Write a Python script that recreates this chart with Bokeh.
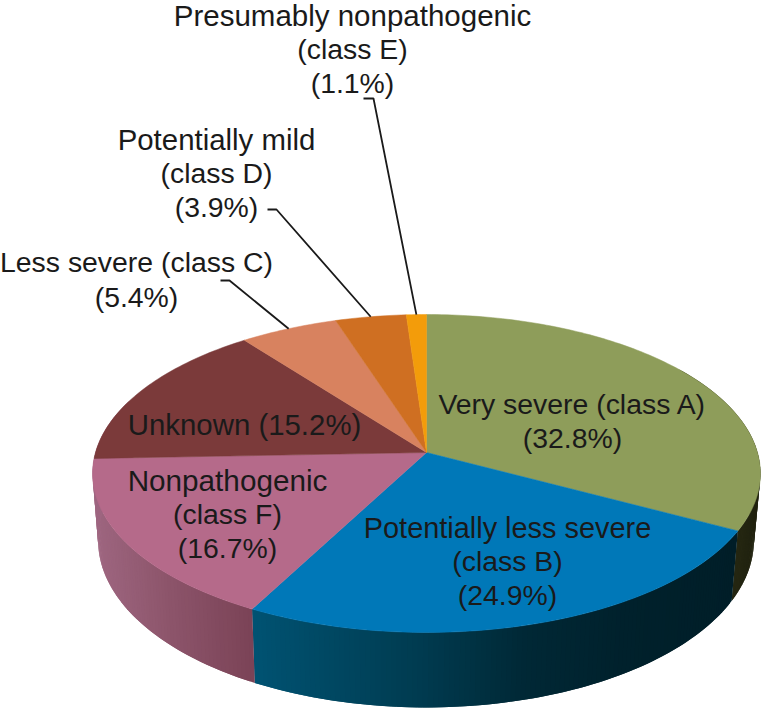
import math
from bokeh.plotting import figure
from bokeh.models import Range1d, ColumnDataSource
from bokeh.core.properties import value
from bokeh.embed import file_html
from bokeh.resources import INLINE

# data
classes = ["Very severe (class A)", "Potentially less severe (class B)", "Nonpathogenic (class F)",
           "Unknown", "Less severe (class C)", "Potentially mild (class D)", "Presumably nonpathogenic (class E)"]
shares = [32.8, 24.9, 16.7, 15.2, 5.4, 3.9, 1.1]

# style
top_colors = ["#8e9d5a", "#0078b8", "#b56a8a", "#7b3a3a", "#d8825f", "#cf6f22", "#f39c0a"]
# side shading stops: (screen x, rgb)
side_stops = [
    [(730, (38, 40, 18)), (760, (30, 32, 14))],
    [(254, (0, 82, 114)), (340, (0, 70, 96)), (425, (0, 58, 78)), (520, (0, 40, 54)), (620, (0, 33, 44)), (735, (0, 30, 40))],
    [(95, (158, 102, 128)), (170, (140, 84, 106)), (254, (122, 66, 86))],
    [(90, (158, 102, 128)), (254, (158, 102, 128))],
    [(200, (160, 90, 70)), (340, (160, 90, 70))],
    [(340, (150, 80, 30)), (410, (150, 80, 30))],
    [(410, (170, 110, 10)), (430, (170, 110, 10))],
]

# projection of the pie disc
K = 0.132
def top_pt(t):
    u, v = math.sin(t), math.cos(t)
    d = 1 + K * v
    return 426 + 331 * u / d, 452 - 156.2 * v / d
def bot_pt(t):
    u, v = math.sin(t), math.cos(t)
    d = 1 + K * v
    return 425.5 + 325 * u / d, 518 - 164 * v / d
def shade(stops, x):
    if x <= stops[0][0]:
        c = stops[0][1]
    elif x >= stops[-1][0]:
        c = stops[-1][1]
    else:
        for (x0, c0), (x1, c1) in zip(stops, stops[1:]):
            if x0 <= x <= x1:
                f = (x - x0) / (x1 - x0)
                c = tuple(a + (b - a) * f for a, b in zip(c0, c1))
                break
    return "#%02x%02x%02x" % tuple(int(round(a)) for a in c)

total = sum(shares)
bounds = [0.0]
for s in shares:
    bounds.append(bounds[-1] + s / total * 2 * math.pi)

p = figure(width=768, height=713, x_range=Range1d(0, 768), y_range=Range1d(713, 0),
           output_backend="svg", toolbar_location=None, min_border=0,
           background_fill_color="white", border_fill_color="white", outline_line_color=None)
p.axis.visible = False
p.grid.visible = False

# side wall, one strip per small step of the rim
xs, ys, cs = [], [], []
for i, stops in enumerate(side_stops):
    a0, a1 = bounds[i], bounds[i + 1]
    a0 = max(a0, math.radians(55))
    a1 = min(a1, math.radians(290))
    if a1 <= a0:
        continue
    n = max(2, int((a1 - a0) / math.radians(0.8)))
    for j in range(n):
        t0 = a0 + (a1 - a0) * j / n
        t1 = a0 + (a1 - a0) * (j + 1.0) / n
        t2 = min(a1, t1 + (a1 - a0) / n)
        A, B = top_pt(t0), top_pt(t2)
        C, D = bot_pt(t2), bot_pt(t0)
        xs.append([A[0], B[0], C[0], D[0]])
        ys.append([A[1], B[1], C[1], D[1]])
        cs.append(shade(stops, (A[0] + B[0] + C[0] + D[0]) / 4))
p.patches(xs, ys, fill_color=cs, line_color=None)

# top face
for i, col in enumerate(top_colors):
    a0, a1 = bounds[i], bounds[i + 1]
    n = max(4, int((a1 - a0) / math.radians(1.0)))
    pts = [top_pt(a0 + (a1 - a0) * j / n) for j in range(n + 1)]
    p.patch([426] + [q[0] for q in pts], [452] + [q[1] for q in pts],
            fill_color=col, line_color=col, line_width=0.5)

# leader lines: elbow near the label, then to the middle of the slice's rim
leader_slices = [4, 5, 6]
leader_elbows = [[(220, 280), (229, 280)], [(267, 209), (276, 209)], [(363, 98), (373, 98)]]
for i, elbow in zip(leader_slices, leader_elbows):
    e = top_pt((bounds[i] + bounds[i + 1]) / 2)
    p.line([q[0] for q in elbow] + [e[0]], [q[1] for q in elbow] + [e[1]],
           line_color="#1a1a1a", line_width=1.8)

# labels
lines = ["Presumably nonpathogenic", "(class E)", "(1.1%)",
         "Potentially mild", "(class D)", "(3.9%)",
         "Less severe (class C)", "(5.4%)",
         "Very severe (class A)", "(32.8%)",
         "Potentially less severe", "(class B)", "(24.9%)",
         "Nonpathogenic", "(class F)", "(16.7%)",
         "Unknown (15.2%)"]
line_x = [352, 352, 352, 216, 216, 216, 136, 136, 572, 572, 507, 507, 507, 227, 227, 227, 244]
line_y = [15, 48, 82, 139, 172, 206, 261, 296, 403, 437, 527, 560, 594, 480, 513, 547, 424]
line_px = [29.5, 28.4, 28.4, 29.4, 28.4, 28.4, 28.4, 28.4, 28.4, 28.4, 28.9, 28.4, 28.4, 29.7, 28.4, 28.4, 29.4]
src = ColumnDataSource(dict(x=line_x, y=line_y, t=lines, fs=[f"{s}px" for s in line_px]))
p.text("x", "y", text="t", source=src, text_font=value("Liberation Sans"), text_font_size="fs",
       text_align="center", text_baseline="middle", text_color="#1a1a1a")

open("out.html", "w").write(file_html(p, INLINE))
